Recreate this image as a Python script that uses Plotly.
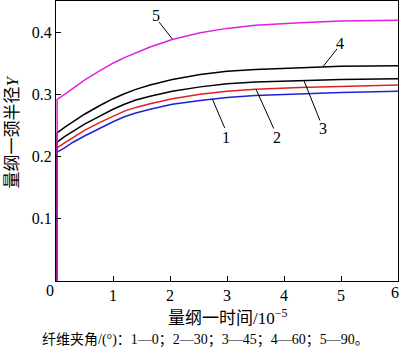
import plotly.graph_objects as go

# Data
x_vals = [0.02, 0.02, 0.15, 0.3, 0.5, 0.77, 1.0, 1.2, 1.4, 1.65, 2.04, 2.53, 3.0, 3.5, 4.28, 5.0, 6.0]
y1 = [0, 0.207, 0.214, 0.223, 0.233, 0.246, 0.256, 0.264, 0.270, 0.276, 0.284, 0.290, 0.295, 0.298, 0.301, 0.303, 0.305]
y2 = [0, 0.214, 0.222, 0.231, 0.242, 0.255, 0.265, 0.273, 0.279, 0.285, 0.293, 0.300, 0.305, 0.308, 0.311, 0.313, 0.315]
y3 = [0, 0.223, 0.232, 0.241, 0.252, 0.265, 0.276, 0.284, 0.291, 0.297, 0.305, 0.312, 0.317, 0.320, 0.322, 0.324, 0.325]
y4 = [0, 0.238, 0.247, 0.256, 0.268, 0.282, 0.293, 0.301, 0.308, 0.315, 0.324, 0.332, 0.337, 0.340, 0.343, 0.345, 0.346]
y5 = [0, 0.292, 0.300, 0.310, 0.323, 0.338, 0.350, 0.359, 0.367, 0.376, 0.388, 0.399, 0.406, 0.411, 0.415, 0.418, 0.419]
series = [("1", y1, "#2020d8"), ("2", y2, "#e02020"), ("3", y3, "#000000"),
          ("4", y4, "#000000"), ("5", y5, "#e020e0")]

x_ticks = [1, 2, 3, 4, 5]
y_ticks = [0.1, 0.2, 0.3, 0.4]

# curve labels: name, text pos (x,y), leader start, leader end
labels = [
    ("1", (2.98, 0.230), (2.96, 0.246), (2.74, 0.293)),
    ("2", (3.88, 0.230), (3.82, 0.245), (3.51, 0.308)),
    ("3", (4.68, 0.245), (4.63, 0.258), (4.35, 0.322)),
    ("4", (4.98, 0.382), (4.93, 0.373), (4.68, 0.344)),
    ("5", (1.75, 0.427), (1.81, 0.416), (2.04, 0.389)),
]

x_title = "量纲一时间/10<sup>−5</sup>"
y_title = "量纲一颈半径<i>Y</i>"
caption = "纤维夹角/(°)：1—0；2—30；3—45；4—60；5—90。"

FONT = "Liberation Serif, Noto Sans CJK SC"

fig = go.Figure()
for name, ys, col in series:
    fig.add_trace(go.Scatter(x=x_vals, y=ys, mode="lines", name=name,
                             line=dict(color=col, width=1.5),
                             showlegend=False))

for name, tp, ls, le in labels:
    fig.add_annotation(x=tp[0], y=tp[1], text=name, showarrow=False,
                       xanchor="center", yanchor="middle",
                       font=dict(size=16, color="black", family=FONT))
    fig.add_shape(type="line", x0=ls[0], y0=ls[1], x1=le[0], y1=le[1],
                  line=dict(color="black", width=1))

def paper_text(px, py, text, size, angle=0, xanchor="center"):
    fig.add_annotation(xref="paper", yref="paper", x=(px - 56) / 342, y=(281 - py) / 281,
                       text=text, showarrow=False, textangle=angle,
                       xanchor=xanchor, yanchor="middle",
                       font=dict(size=size, color="black", family=FONT))

paper_text(50, 291, "0", 16)
paper_text(401, 293, "6", 16, xanchor="right")
paper_text(227, 317, x_title, 17)
paper_text(13, 132, y_title, 17, -90)
paper_text(205, 340, caption, 14)

fig.update_layout(
    width=400, height=352,
    margin=dict(l=56, r=2, t=1, b=71),
    paper_bgcolor="white", plot_bgcolor="white",
    font=dict(family=FONT, size=16, color="black"),
)
fig.update_xaxes(range=[0, 6], tickvals=x_ticks + [6], ticktext=[str(v) for v in x_ticks] + [""],
                 ticks="inside", ticklen=5,
                 tickcolor="black", showline=True, linecolor="black", linewidth=1,
                 mirror=True, showgrid=False, zeroline=False,
                 tickfont=dict(size=16, family=FONT))
fig.update_yaxes(range=[0, 0.45], tickvals=y_ticks, ticks="inside", ticklen=5,
                 tickcolor="black", showline=True, linecolor="black", linewidth=1,
                 mirror=True, showgrid=False, zeroline=False,
                 tickfont=dict(size=16, family=FONT))

fig.write_html("out.html")
